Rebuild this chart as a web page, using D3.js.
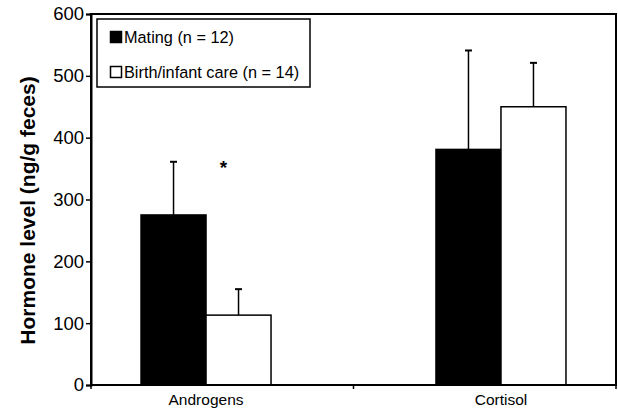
<!DOCTYPE html>
<html>
<head>
<meta charset="utf-8">
<script src="https://cdn.jsdelivr.net/npm/d3@7"></script>
<style>
  body { margin: 0; background: #fff; }
  svg { font-family: "Liberation Sans", Arial, sans-serif; }
</style>
</head>
<body>
<div id="chart"></div>
<script>
// data
const categories = ["Androgens", "Cortisol"];
const groups = ["Mating (n = 12)", "Birth/infant care (n = 14)"];
const means = [[275, 113], [381, 450]];     // [category][group]
const errTop = [[361, 155], [541, 521]];    // upper end of error bar
const yTicks = [0, 100, 200, 300, 400, 500, 600];
const fills = ["#000", "#fff"];

const width = 618, height = 409;
const margin = { top: 14, right: 2, bottom: 24, left: 91 };

const svg = d3.select("#chart")
  .append("svg")
  .attr("width", width)
  .attr("height", height);

const x = d3.scalePoint()
  .domain(categories)
  .range([margin.left, width - margin.right])
  .padding(0.39);

const y = d3.scaleLinear()
  .domain([0, 600])
  .range([height - margin.bottom, margin.top]);

const barW = 65;

// bars
categories.forEach((c, i) => {
  groups.forEach((g, j) => {
    const x0 = x(c) + (j - 1) * barW;
    const xc = x0 + barW / 2;
    // error bar (upper only)
    svg.append("line")
      .attr("x1", xc).attr("x2", xc)
      .attr("y1", y(means[i][j])).attr("y2", y(errTop[i][j]))
      .attr("stroke", "#000").attr("stroke-width", 1.5);
    svg.append("line")
      .attr("x1", xc - 3.5).attr("x2", xc + 3.5)
      .attr("y1", y(errTop[i][j])).attr("y2", y(errTop[i][j]))
      .attr("stroke", "#000").attr("stroke-width", 2);
    svg.append("rect")
      .attr("x", x0)
      .attr("y", y(means[i][j]))
      .attr("width", barW)
      .attr("height", y(0) - y(means[i][j]))
      .attr("fill", fills[j])
      .attr("stroke", "#000")
      .attr("stroke-width", 1.5);
  });
});

// significance star
svg.append("text")
  .attr("x", x("Androgens") + barW / 2 - 15)
  .attr("y", y(361) + 12)
  .attr("text-anchor", "middle")
  .style("font-size", "19px")
  .style("font-weight", "bold")
  .text("*");

// plot frame
svg.append("rect")
  .attr("x", margin.left)
  .attr("y", margin.top)
  .attr("width", width - margin.right - margin.left)
  .attr("height", y(0) - margin.top)
  .attr("fill", "none")
  .attr("stroke", "#000")
  .attr("stroke-width", 2);

// y axis
const yAxis = svg.append("g")
  .attr("transform", `translate(${margin.left},0)`)
  .call(d3.axisLeft(y).tickValues(yTicks).tickSize(5).tickPadding(2));
yAxis.select(".domain").attr("stroke-width", 2);
yAxis.selectAll(".tick line").attr("stroke-width", 1.5);
yAxis.selectAll("text").style("font-size", "18.5px").attr("fill", "#000");

// x axis: ticks between categories, labels under bars
const mid = (x(categories[0]) + x(categories[1])) / 2;
[margin.left, mid, width - margin.right].forEach(t => {
  svg.append("line")
    .attr("x1", t).attr("x2", t)
    .attr("y1", y(0)).attr("y2", y(0) + 4)
    .attr("stroke", "#000").attr("stroke-width", 1.5);
});
svg.selectAll(".xlab")
  .data(categories)
  .join("text")
  .attr("x", d => x(d))
  .attr("y", y(0) + 20)
  .attr("text-anchor", "middle")
  .style("font-size", "15.5px")
  .text(d => d);

// y title
svg.append("text")
  .attr("transform", `translate(34.5,${(margin.top + y(0)) / 2 + 11}) rotate(-90)`)
  .attr("text-anchor", "middle")
  .style("font-size", "21px")
  .style("font-weight", "bold")
  .text("Hormone level (ng/g feces)");

// legend
const legend = svg.append("g");
legend.append("rect")
  .attr("x", 97).attr("y", 19)
  .attr("width", 213).attr("height", 68)
  .attr("fill", "#fff")
  .attr("stroke", "#000")
  .attr("stroke-width", 1.5);
groups.forEach((g, j) => {
  const cy = 37 + j * 35;
  legend.append("rect")
    .attr("x", 110.5).attr("y", cy - 5.5)
    .attr("width", 11).attr("height", 11)
    .attr("fill", fills[j])
    .attr("stroke", "#000")
    .attr("stroke-width", 1.5);
  legend.append("text")
    .attr("x", 124).attr("y", cy + 6)
    .style("font-size", "16.3px")
    .text(g);
});
</script>
</body>
</html>
